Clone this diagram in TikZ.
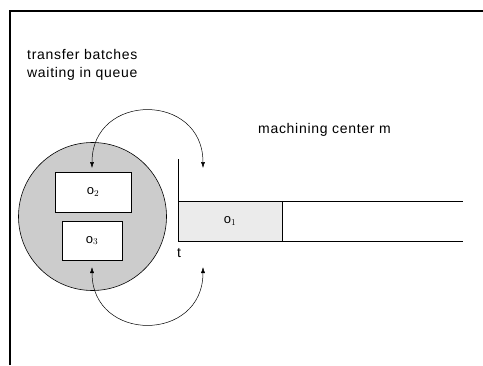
\documentclass[tikz,border=0pt]{standalone}
\usepackage{fontspec}
\setmainfont{Liberation Sans}
\usetikzlibrary{arrows.meta}
\begin{document}
\begin{tikzpicture}[x=1pt,y=-1pt,
  lbl/.style={font=\fontsize{14}{18}\selectfont, inner sep=0pt},
  qbox/.style={draw, line width=0.9pt, fill=white, inner sep=0pt, outer sep=0pt},
  arc/.style={line width=0.5pt, {Latex[length=6pt,width=4pt]}-{Latex[length=6pt,width=4pt]}}
]
\useasboundingbox (0,0) rectangle (483,365);
% frame
\draw[line width=1.2pt] (10,365) -- (10,11) -- (483,11);
% labels
\node[lbl, anchor=north west, align=left] (title) at (27,49) {\addfontfeature{LetterSpace=5}transfer batches\\\addfontfeature{LetterSpace=5}waiting in queue};
\node[lbl, anchor=west] (mc) at (258,130) {\addfontfeature{LetterSpace=5}machining center m};
% queue circle
\node[draw, circle, fill=black!20, line width=0.6pt, minimum size=148pt, inner sep=0pt] (queue) at (92.5,216.5) {};
\node[qbox, minimum width=76pt, minimum height=40pt] (o2) at (93,192) {\fontsize{13}{15}\selectfont o$_2$};
\node[qbox, minimum width=60pt, minimum height=39pt] (o3) at (92,240.5) {\fontsize{13}{15}\selectfont o$_3$};
% machining center
\node[draw, line width=0.9pt, fill=black!8, minimum width=104pt, minimum height=40pt, inner sep=0pt, outer sep=0pt, anchor=north west] (o1) at (178,201) {\fontsize{13}{15}\selectfont o$_1$};
\coordinate (ttop) at (178,159);
\coordinate (r1) at (463,201);
\coordinate (r2) at (463,241);
\draw[line width=0.8pt] (ttop) -- (o1.south west);
\draw[line width=0.8pt] (o1.north east) -- (r1);
\draw[line width=0.6pt] (o1.south east) -- (r2);
\node[lbl, anchor=north] (t) at (179,248) {t};
% arcs
\coordinate (a1) at (92,168);
\coordinate (a2) at (203,168);
\coordinate (b1) at (92,267);
\coordinate (b2) at (203,267);
\draw[arc] (a1) .. controls (92,92) and (203,92) .. (a2);
\draw[arc] (b1) .. controls (92,343) and (203,343) .. (b2);
\end{tikzpicture}
\end{document}
